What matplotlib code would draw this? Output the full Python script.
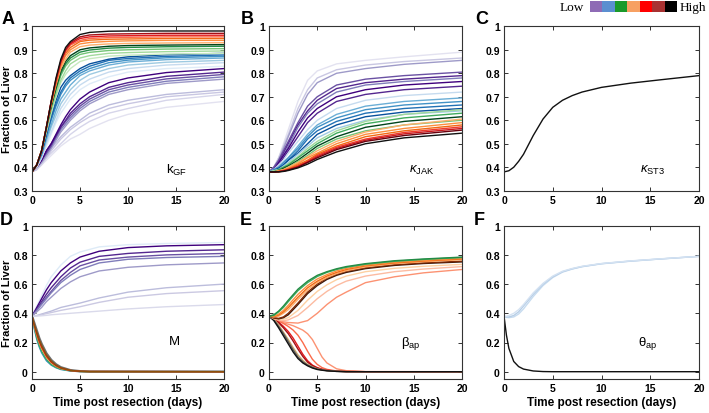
import matplotlib.pyplot as plt
import numpy as np
from matplotlib.colors import to_rgb

plt.rcParams['font.family'] = ['Liberation Sans', 'DejaVu Sans']
plt.rcParams['mathtext.fontset'] = 'custom'
plt.rcParams['mathtext.rm'] = 'Liberation Sans'
plt.rcParams['mathtext.it'] = 'Liberation Sans:italic'

# ---------------- data ----------------
t_a = [0, 0.5, 1, 1.5, 2, 2.5, 3, 3.5, 4, 5, 6, 8, 10, 14, 20]

# panel A (k_GF), lowest curve first
curves_a = [
    [0.38, 0.39, 0.41, 0.43, 0.45, 0.47, 0.49, 0.505, 0.52, 0.54, 0.565, 0.60, 0.625, 0.655, 0.68],
    [0.38, 0.39, 0.41, 0.44, 0.46, 0.48, 0.50, 0.52, 0.54, 0.57, 0.595, 0.63, 0.65, 0.685, 0.71],
    [0.38, 0.39, 0.42, 0.44, 0.47, 0.495, 0.52, 0.54, 0.56, 0.59, 0.615, 0.65, 0.67, 0.70, 0.72],
    [0.38, 0.40, 0.42, 0.45, 0.48, 0.505, 0.53, 0.55, 0.57, 0.60, 0.63, 0.665, 0.685, 0.71, 0.73],
    [0.38, 0.40, 0.42, 0.45, 0.48, 0.515, 0.55, 0.575, 0.60, 0.64, 0.67, 0.71, 0.73, 0.757, 0.775],
    [0.38, 0.40, 0.43, 0.46, 0.49, 0.525, 0.56, 0.585, 0.61, 0.65, 0.68, 0.72, 0.74, 0.766, 0.785],
    [0.38, 0.40, 0.43, 0.46, 0.49, 0.53, 0.57, 0.595, 0.62, 0.66, 0.69, 0.73, 0.75, 0.776, 0.795],
    [0.38, 0.40, 0.43, 0.47, 0.50, 0.535, 0.57, 0.60, 0.63, 0.67, 0.70, 0.74, 0.76, 0.787, 0.805],
    [0.38, 0.40, 0.43, 0.47, 0.50, 0.54, 0.58, 0.615, 0.645, 0.69, 0.72, 0.76, 0.78, 0.803, 0.82],
    [0.38, 0.40, 0.44, 0.49, 0.54, 0.59, 0.63, 0.66, 0.69, 0.73, 0.755, 0.785, 0.805, 0.82, 0.83],
    [0.38, 0.40, 0.44, 0.50, 0.55, 0.60, 0.65, 0.68, 0.71, 0.75, 0.775, 0.805, 0.82, 0.835, 0.845],
    [0.38, 0.41, 0.45, 0.51, 0.57, 0.62, 0.67, 0.70, 0.73, 0.77, 0.795, 0.82, 0.835, 0.847, 0.855],
    [0.38, 0.41, 0.45, 0.52, 0.58, 0.64, 0.69, 0.72, 0.75, 0.79, 0.81, 0.835, 0.848, 0.858, 0.865],
    [0.38, 0.41, 0.46, 0.53, 0.60, 0.66, 0.71, 0.745, 0.77, 0.80, 0.82, 0.845, 0.856, 0.866, 0.872],
    [0.38, 0.41, 0.46, 0.54, 0.61, 0.67, 0.72, 0.755, 0.78, 0.81, 0.83, 0.855, 0.863, 0.872, 0.878],
    [0.38, 0.41, 0.46, 0.54, 0.62, 0.685, 0.74, 0.77, 0.79, 0.82, 0.84, 0.86, 0.87, 0.879, 0.885],
    [0.38, 0.41, 0.47, 0.55, 0.63, 0.70, 0.76, 0.795, 0.82, 0.85, 0.862, 0.873, 0.877, 0.882, 0.885],
    [0.38, 0.41, 0.47, 0.56, 0.64, 0.71, 0.77, 0.81, 0.84, 0.865, 0.875, 0.885, 0.888, 0.892, 0.895],
    [0.38, 0.41, 0.47, 0.56, 0.65, 0.725, 0.79, 0.83, 0.855, 0.88, 0.889, 0.897, 0.90, 0.903, 0.905],
    [0.38, 0.41, 0.47, 0.57, 0.66, 0.735, 0.80, 0.84, 0.865, 0.89, 0.899, 0.907, 0.91, 0.913, 0.915],
    [0.38, 0.41, 0.47, 0.57, 0.66, 0.74, 0.81, 0.85, 0.875, 0.90, 0.908, 0.915, 0.918, 0.92, 0.922],
    [0.38, 0.41, 0.47, 0.57, 0.67, 0.75, 0.82, 0.86, 0.89, 0.913, 0.92, 0.925, 0.927, 0.929, 0.93],
    [0.38, 0.41, 0.47, 0.57, 0.67, 0.755, 0.83, 0.875, 0.90, 0.925, 0.931, 0.936, 0.938, 0.94, 0.94],
    [0.38, 0.41, 0.47, 0.57, 0.67, 0.76, 0.84, 0.885, 0.91, 0.935, 0.941, 0.945, 0.946, 0.948, 0.948],
    [0.38, 0.41, 0.47, 0.57, 0.68, 0.765, 0.84, 0.89, 0.92, 0.94, 0.948, 0.952, 0.953, 0.955, 0.955],
    [0.38, 0.41, 0.47, 0.57, 0.68, 0.77, 0.85, 0.90, 0.925, 0.948, 0.955, 0.959, 0.96, 0.962, 0.962],
    [0.38, 0.41, 0.47, 0.57, 0.68, 0.775, 0.85, 0.90, 0.93, 0.955, 0.963, 0.967, 0.968, 0.97, 0.97],
    [0.38, 0.41, 0.47, 0.57, 0.68, 0.78, 0.86, 0.91, 0.935, 0.965, 0.974, 0.979, 0.98, 0.98, 0.98],
]
colors_a = ['#e3e2f0', '#d6d5ea', '#c9c7e2', '#bcbcdc',
            '#9e9ac8', '#807dba', '#6a51a3', '#54278f', '#3f007d',
            '#deebf7', '#c6dbef', '#9ecae1',
            '#6baed6', '#4292c6', '#2171b5', '#08519c',
            '#c7e9c0', '#a1d99b', '#74c476', '#238b45', '#00441b',
            '#fdae6b', '#fd8d3c', '#f16913',
            '#fb6a4a', '#e31a1c', '#a50f15', '#111111']

# panel B (kappa_JAK), top curve first
t_b = [0, 0.5, 1, 1.5, 2, 3, 4, 5, 7, 10, 14, 20]
curves_b = [
    [0.38, 0.40, 0.44, 0.50, 0.56, 0.68, 0.77, 0.81, 0.84, 0.855, 0.87, 0.89],
    [0.38, 0.40, 0.44, 0.49, 0.54, 0.65, 0.73, 0.78, 0.815, 0.835, 0.85, 0.865],
    [0.38, 0.40, 0.43, 0.48, 0.53, 0.63, 0.71, 0.76, 0.80, 0.82, 0.838, 0.855],
    [0.38, 0.40, 0.43, 0.47, 0.51, 0.59, 0.66, 0.70, 0.75, 0.775, 0.79, 0.805],
    [0.38, 0.39, 0.42, 0.46, 0.50, 0.58, 0.64, 0.685, 0.735, 0.76, 0.775, 0.79],
    [0.38, 0.39, 0.42, 0.45, 0.49, 0.57, 0.63, 0.67, 0.72, 0.75, 0.765, 0.78],
    [0.38, 0.39, 0.42, 0.45, 0.48, 0.55, 0.61, 0.65, 0.70, 0.73, 0.75, 0.765],
    [0.38, 0.39, 0.41, 0.44, 0.47, 0.53, 0.59, 0.63, 0.68, 0.71, 0.73, 0.745],
    [0.38, 0.39, 0.41, 0.43, 0.46, 0.51, 0.56, 0.60, 0.65, 0.685, 0.705, 0.72],
    [0.38, 0.39, 0.40, 0.42, 0.44, 0.49, 0.54, 0.58, 0.625, 0.66, 0.68, 0.695],
    [0.38, 0.39, 0.40, 0.42, 0.44, 0.48, 0.53, 0.57, 0.61, 0.645, 0.665, 0.68],
    [0.38, 0.385, 0.395, 0.41, 0.43, 0.47, 0.52, 0.555, 0.595, 0.63, 0.65, 0.665],
    [0.38, 0.385, 0.395, 0.41, 0.43, 0.46, 0.50, 0.54, 0.58, 0.615, 0.635, 0.65],
    [0.38, 0.385, 0.39, 0.405, 0.42, 0.455, 0.49, 0.525, 0.565, 0.60, 0.625, 0.64],
    [0.38, 0.385, 0.39, 0.40, 0.415, 0.445, 0.48, 0.51, 0.555, 0.595, 0.625, 0.645],
    [0.38, 0.38, 0.39, 0.40, 0.41, 0.44, 0.47, 0.50, 0.545, 0.585, 0.61, 0.63],
    [0.38, 0.38, 0.385, 0.395, 0.405, 0.43, 0.46, 0.49, 0.53, 0.57, 0.595, 0.615],
    [0.38, 0.38, 0.385, 0.39, 0.40, 0.425, 0.45, 0.48, 0.52, 0.555, 0.58, 0.60],
    [0.38, 0.38, 0.385, 0.39, 0.40, 0.42, 0.445, 0.47, 0.51, 0.55, 0.58, 0.605],
    [0.38, 0.38, 0.383, 0.388, 0.395, 0.415, 0.44, 0.46, 0.50, 0.54, 0.565, 0.59],
    [0.38, 0.38, 0.382, 0.386, 0.392, 0.41, 0.43, 0.455, 0.49, 0.53, 0.555, 0.58],
    [0.38, 0.38, 0.381, 0.385, 0.39, 0.405, 0.425, 0.45, 0.485, 0.52, 0.548, 0.572],
    [0.38, 0.38, 0.381, 0.384, 0.389, 0.403, 0.422, 0.445, 0.48, 0.515, 0.542, 0.565],
    [0.38, 0.38, 0.381, 0.383, 0.388, 0.40, 0.42, 0.44, 0.475, 0.51, 0.535, 0.558],
    [0.38, 0.38, 0.38, 0.382, 0.386, 0.397, 0.413, 0.433, 0.465, 0.50, 0.525, 0.545],
]
colors_b = ['#e3e2f0', '#c9c7e2', '#9e9ac8',
            '#6a51a3', '#54278f', '#807dba', '#3f007d', '#54278f',
            '#c6dbef', '#6baed6', '#4292c6', '#2171b5', '#08519c', '#9ecae1',
            '#a1d99b', '#41ab5d', '#00441b', '#74c476',
            '#fdae6b', '#fd8d3c', '#f16913',
            '#ef3b2c', '#cb181d', '#67000d', '#111111']

# panel C (kappa_ST3)
t_c = [0, 0.5, 1, 1.5, 2, 3, 4, 5, 6, 7, 8, 10, 13, 16, 20]
curve_c = [0.38, 0.385, 0.40, 0.425, 0.455, 0.535, 0.605, 0.655, 0.685,
           0.705, 0.72, 0.74, 0.758, 0.772, 0.79]

# panel D (M)
t_d_up = [0, 0.5, 1, 1.5, 2, 3, 4, 5, 7, 10, 14, 20]
curves_d_up = [
    [0.38, 0.45, 0.52, 0.59, 0.65, 0.73, 0.79, 0.82, 0.855, 0.87, 0.878, 0.885],
    [0.38, 0.44, 0.50, 0.56, 0.61, 0.69, 0.745, 0.785, 0.825, 0.85, 0.862, 0.87],
    [0.38, 0.43, 0.48, 0.53, 0.575, 0.65, 0.71, 0.75, 0.79, 0.81, 0.825, 0.835],
    [0.38, 0.42, 0.47, 0.51, 0.55, 0.625, 0.68, 0.725, 0.765, 0.785, 0.80, 0.81],
    [0.38, 0.42, 0.46, 0.50, 0.54, 0.61, 0.66, 0.70, 0.745, 0.77, 0.782, 0.79],
    [0.38, 0.41, 0.44, 0.48, 0.51, 0.57, 0.615, 0.65, 0.69, 0.715, 0.732, 0.745],
    [0.38, 0.385, 0.395, 0.405, 0.415, 0.44, 0.455, 0.47, 0.505, 0.545, 0.575, 0.60],
    [0.38, 0.383, 0.39, 0.398, 0.405, 0.42, 0.432, 0.445, 0.475, 0.51, 0.535, 0.555],
    [0.38, 0.381, 0.383, 0.386, 0.39, 0.395, 0.40, 0.405, 0.415, 0.43, 0.445, 0.46],
]
colors_d_up = ['#deebf7', '#3f007d', '#54278f', '#6a51a3', '#807dba',
               '#9e9ac8', '#bcbddc', '#cbc9e2', '#dadaeb']
t_d_down = [0, 0.25, 0.5, 0.75, 1, 1.5, 2, 2.5, 3, 4, 5, 6, 20]
curves_d_down = [
    [0.38, 0.33, 0.28, 0.23, 0.19, 0.125, 0.08, 0.05, 0.03, 0.01, 0.003, 0.001, 0.0],
    [0.38, 0.29, 0.22, 0.17, 0.13, 0.075, 0.045, 0.027, 0.015, 0.005, 0.002, 0.0, 0.0],
    [0.38, 0.30, 0.23, 0.18, 0.14, 0.085, 0.05, 0.03, 0.018, 0.006, 0.002, 0.0, 0.0],
    [0.38, 0.31, 0.25, 0.20, 0.16, 0.10, 0.062, 0.038, 0.022, 0.008, 0.002, 0.001, 0.0],
    [0.38, 0.315, 0.26, 0.21, 0.17, 0.108, 0.067, 0.042, 0.025, 0.008, 0.003, 0.001, 0.0],
    [0.38, 0.32, 0.27, 0.22, 0.18, 0.115, 0.073, 0.045, 0.027, 0.009, 0.003, 0.001, 0.0],
]
colors_d_down = ['#6e6e6e', '#2b8cbe', '#41ab5d', '#fd8d3c', '#cb181d', '#8c510a']

# panel E (beta_ap)
t_e_up = [0, 0.5, 1, 1.5, 2, 3, 4, 5, 6, 7, 8, 10, 13, 16, 20]
curves_e_up = [
    [0.38, 0.362, 0.35, 0.342, 0.337, 0.333, 0.35, 0.40, 0.46, 0.51, 0.545, 0.61, 0.65, 0.677, 0.70],
    [0.38, 0.365, 0.355, 0.35, 0.355, 0.385, 0.44, 0.50, 0.55, 0.59, 0.62, 0.655, 0.685, 0.703, 0.72],
    [0.38, 0.368, 0.36, 0.36, 0.37, 0.42, 0.49, 0.55, 0.595, 0.63, 0.655, 0.685, 0.708, 0.722, 0.735],
    [0.38, 0.368, 0.362, 0.37, 0.39, 0.46, 0.535, 0.59, 0.632, 0.66, 0.68, 0.706, 0.728, 0.741, 0.752],
    [0.38, 0.37, 0.365, 0.375, 0.40, 0.47, 0.545, 0.60, 0.64, 0.667, 0.687, 0.712, 0.733, 0.746, 0.757],
    [0.38, 0.375, 0.38, 0.40, 0.425, 0.495, 0.56, 0.61, 0.645, 0.672, 0.692, 0.718, 0.74, 0.753, 0.767],
    [0.38, 0.378, 0.388, 0.41, 0.44, 0.51, 0.575, 0.62, 0.655, 0.68, 0.70, 0.725, 0.745, 0.758, 0.772],
    [0.38, 0.38, 0.395, 0.42, 0.455, 0.53, 0.59, 0.635, 0.665, 0.69, 0.707, 0.73, 0.75, 0.763, 0.777],
    [0.38, 0.385, 0.41, 0.44, 0.48, 0.555, 0.61, 0.652, 0.68, 0.70, 0.715, 0.736, 0.756, 0.769, 0.782],
    [0.38, 0.39, 0.415, 0.45, 0.49, 0.565, 0.62, 0.66, 0.685, 0.705, 0.72, 0.74, 0.76, 0.772, 0.785],
]
colors_e_up = ['#fc9272', '#fcbba1', '#fdd0a2', '#3b1a0a', '#7f2704',
               '#fdae6b', '#f16913', '#fd8d3c', '#41ab5d', '#238b45']
t_e_down = [0, 0.5, 1, 1.5, 2, 2.5, 3, 3.5, 4, 4.5, 5, 5.5, 6, 7, 8, 10, 20]
curves_e_down = [
    [0.38, 0.36, 0.345, 0.335, 0.325, 0.315, 0.30, 0.285, 0.26, 0.22, 0.16, 0.10, 0.06, 0.02, 0.007, 0.001, 0.0],
    [0.38, 0.37, 0.35, 0.33, 0.31, 0.285, 0.25, 0.20, 0.14, 0.085, 0.05, 0.028, 0.016, 0.005, 0.002, 0.0, 0.0],
    [0.38, 0.367, 0.34, 0.31, 0.275, 0.23, 0.175, 0.12, 0.075, 0.045, 0.028, 0.017, 0.01, 0.004, 0.001, 0.0, 0.0],
    [0.38, 0.365, 0.335, 0.30, 0.26, 0.21, 0.155, 0.105, 0.065, 0.04, 0.025, 0.015, 0.009, 0.003, 0.001, 0.0, 0.0],
    [0.38, 0.36, 0.32, 0.27, 0.22, 0.165, 0.115, 0.078, 0.05, 0.033, 0.02, 0.013, 0.008, 0.003, 0.001, 0.0, 0.0],
    [0.38, 0.355, 0.31, 0.26, 0.205, 0.15, 0.10, 0.068, 0.045, 0.03, 0.018, 0.012, 0.007, 0.002, 0.0, 0.0, 0.0],
    [0.38, 0.35, 0.30, 0.245, 0.19, 0.135, 0.09, 0.06, 0.04, 0.025, 0.015, 0.01, 0.006, 0.002, 0.0, 0.0, 0.0],
]
colors_e_down = ['#fc9272', '#fb6a4a', '#e31a1c', '#a50f15', '#c8a96e', '#555555', '#111111']

# panel F (theta_ap)
t_f = [0, 0.25, 0.5, 1, 1.5, 2, 3, 4, 5, 6, 7, 8, 10, 13, 16, 20]
curves_f = [
    [0.38, 0.372, 0.37, 0.375, 0.395, 0.43, 0.515, 0.59, 0.645, 0.682, 0.703, 0.719, 0.739, 0.757, 0.772, 0.79],
    [0.38, 0.375, 0.375, 0.385, 0.41, 0.45, 0.53, 0.60, 0.65, 0.685, 0.705, 0.72, 0.74, 0.758, 0.772, 0.79],
    [0.38, 0.38, 0.385, 0.40, 0.425, 0.46, 0.54, 0.605, 0.655, 0.688, 0.707, 0.722, 0.741, 0.759, 0.773, 0.79],
    [0.38, 0.25, 0.16, 0.07, 0.035, 0.018, 0.005, 0.001, 0.0, 0.0, 0.0, 0.0, 0.0, 0.0, 0.0, 0.0],
]
colors_f = ['#c6dbef', '#b5cde6', '#d4e2f2', '#111111']

legend_colors = ['#8e6bb5', '#5b8fd0', '#1a9a2a', '#f7a062', '#ff0000', '#a83232', '#000000']

x_ticks = [0, 5, 10, 15, 20]
y_ticks_top = [0.3, 0.4, 0.5, 0.6, 0.7, 0.8, 0.9, 1.0]
y_labels_top = ['0.3', '0.4', '0.5', '0.6', '0.7', '0.8', '0.9', '1']
y_ticks_bot = [0, 0.2, 0.4, 0.6, 0.8, 1.0]
y_labels_bot = ['0', '0.2', '0.4', '0.6', '0.8', '1']


def style(ax, top_row):
    ax.set_xlim(0, 20)
    ax.set_xticks(x_ticks)
    ax.set_xticklabels([str(v) for v in x_ticks])
    if top_row:
        ax.set_ylim(0.3, 1.0)
        ax.set_yticks(y_ticks_top)
        ax.set_yticklabels(y_labels_top)
    else:
        ax.set_ylim(-0.05, 1.0)
        ax.set_yticks(y_ticks_bot)
        ax.set_yticklabels(y_labels_bot)
    ax.tick_params(direction='in', top=True, right=True, length=3, width=0.7,
                   labelsize=7.5, pad=3, color='#333333')
    for lab in ax.get_xticklabels() + ax.get_yticklabels():
        lab.set_fontweight('bold')
    for s in ax.spines.values():
        s.set_color('#333333')
        s.set_linewidth(0.8)


def draw(ax, t, curves, colors, lw=1.0):
    for y, c in zip(curves, colors):
        ax.plot(t, y, color=c, lw=lw)


def main():
    fig = plt.figure(figsize=(7.09, 4.14), dpi=100)
    lefts = [32 / 709, 269 / 709, 504 / 709]
    widths = [192 / 709, 193 / 709, 195 / 709]
    top_b, top_h = 1 - 191.7 / 414, 164.4 / 414
    bot_b, bot_h = 1 - 380 / 414, 153.3 / 414

    axA = fig.add_axes([lefts[0], top_b, widths[0], top_h])
    axB = fig.add_axes([lefts[1], top_b, widths[1], top_h])
    axC = fig.add_axes([lefts[2], top_b, widths[2], top_h])
    axD = fig.add_axes([lefts[0], bot_b, widths[0], bot_h])
    axE = fig.add_axes([lefts[1], bot_b, widths[1], bot_h])
    axF = fig.add_axes([lefts[2], bot_b, widths[2], bot_h])

    draw(axA, t_a, curves_a, colors_a)
    draw(axB, t_b, curves_b, colors_b)
    axC.plot(t_c, curve_c, color='#111111', lw=1.0)
    draw(axD, t_d_down, curves_d_down[:1], colors_d_down[:1], lw=1.8)
    draw(axD, t_d_down, curves_d_down[1:], colors_d_down[1:])
    draw(axD, t_d_up, curves_d_up, colors_d_up)
    draw(axE, t_e_down, curves_e_down, colors_e_down)
    draw(axE, t_e_up, curves_e_up, colors_e_up)
    draw(axF, t_f, curves_f, colors_f)

    for ax in (axA, axB, axC):
        style(ax, True)
    for ax in (axD, axE, axF):
        style(ax, False)
        ax.set_xlabel('Time post resection (days)', fontsize=8.5,
                      fontweight='bold', labelpad=2)
    for ax in (axA, axD):
        ax.set_ylabel('Fraction of Liver', fontsize=8, fontweight='bold')
        ax.yaxis.set_label_coords(-0.105, 0.5)

    lab_kw = dict(fontsize=9.5, ha='left', va='center')
    axA.text(14.0, 0.39, r'k$_{\mathregular{GF}}$', **lab_kw)
    axB.text(14.5, 0.39, r'$\kappa_{\mathregular{JAK}}$', **lab_kw)
    axC.text(14.0, 0.39, r'$\kappa_{\mathregular{ST3}}$', **lab_kw)
    axD.text(14.3, 0.21, 'M', **lab_kw)
    axE.text(13.7, 0.20, r'$\mathregular{\beta_{ap}}$', **lab_kw)
    axF.text(13.7, 0.20, r'$\mathregular{\theta_{ap}}$', **lab_kw)

    letters = [('A', 2, 24), ('B', 241, 24), ('C', 475, 24),
               ('D', 0, 225), ('E', 240, 225), ('F', 474, 225)]
    for s, x, y in letters:
        fig.text(x / 709, 1 - y / 414, s, fontsize=13, fontweight='bold',
                 ha='left', va='baseline')

    # Low / High colour key
    axk = fig.add_axes([590 / 709, 1 - 13 / 414, 87 / 709, 11 / 414])
    axk.imshow(np.array([[to_rgb(c) for c in legend_colors]]), aspect='auto')
    axk.axis('off')
    fig.text(584 / 709, 1 - 8 / 414, 'Low', family='Liberation Serif',
             fontsize=9.5, ha='right', va='center')
    fig.text(680 / 709, 1 - 8 / 414, 'High', family='Liberation Serif',
             fontsize=9.5, ha='left', va='center')

    fig.savefig('out.png', dpi=100)


if __name__ == '__main__':
    main()
